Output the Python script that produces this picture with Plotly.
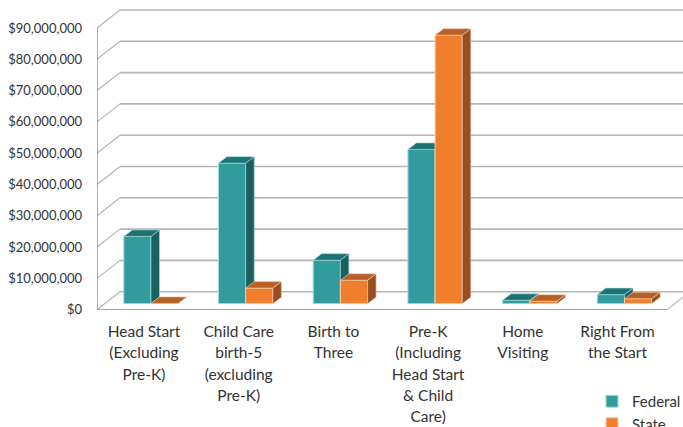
import plotly.graph_objects as go

categories = [
    ["Head Start", "(Excluding", "Pre-K)"],
    ["Child Care", "birth-5", "(excluding", "Pre-K)"],
    ["Birth to", "Three"],
    ["Pre-K", "(Including", "Head Start", "& Child", "Care)"],
    ["Home", "Visiting"],
    ["Right From", "the Start"],
]
federal = [21500000, 44900000, 13900000, 49300000, 1100000, 2900000]
state = [100000, 5000000, 7500000, 85800000, 800000, 1600000]
y_ticks = list(range(0, 100000000, 10000000))

W, H = 683, 427
CAT_PX = 94.7            # pixels per category
ZERO_X_PX = 151          # pixel of category 0 centre
AX_X_PX = 97             # front axis pixel
FLOOR_END_PX = 667
AX_Y_PX = 309.7          # pixel of front floor
Y_PX = 31.3 / 10000000   # pixels per dollar


def dx(px):
    return px / CAT_PX


def dy(px):
    return px / Y_PX


x_lo = (AX_X_PX - ZERO_X_PX) / CAT_PX
x_hi = (W - ZERO_X_PX) / CAT_PX
x_floor = (FLOOR_END_PX - ZERO_X_PX) / CAT_PX
y_hi = AX_Y_PX / Y_PX
bar_lift = dy(6)
bar_w = 27.2 / CAT_PX
bar_dx, bar_dy = dx(8.5), dy(6.5)
wall_dx, wall_dy = dx(23), dy(18)

GRID = "#b4b4b4"
AXIS = "#8c8c8c"
TEXT = "#333333"

fig = go.Figure()


def add_series(name, values, offset, axis, front, edge, side, top):
    xs = list(range(len(values)))
    fig.add_trace(go.Bar(
        x=xs, y=values, name=name, width=bar_w, offset=offset, yaxis=axis,
        marker=dict(color=front, line=dict(color=edge, width=1)),
    ))
    for i, v in zip(xs, values):
        x0 = i + offset
        x1 = x0 + bar_w
        fig.add_trace(go.Scatter(
            x=[x1, x1 + bar_dx, x1 + bar_dx, x1, x1],
            y=[0, bar_dy, v + bar_dy, v, 0],
            mode="lines", fill="toself", fillcolor=side,
            line=dict(color=edge, width=0.6), yaxis=axis,
            showlegend=False, hoverinfo="skip",
        ))
        fig.add_trace(go.Scatter(
            x=[x0, x1, x1 + bar_dx, x0 + bar_dx, x0],
            y=[v, v, v + bar_dy, v + bar_dy, v],
            mode="lines", fill="toself", fillcolor=top,
            line=dict(color=edge, width=0.6), yaxis=axis,
            showlegend=False, hoverinfo="skip",
        ))


add_series("Federal", federal, -bar_w, "y2", "#329b9e", "#a5dcdc", "#17625f", "#1d7373")
add_series("State", state, 0, "y3", "#f07e2d", "#f9cba8", "#964f20", "#b66027")

shapes = []
for t in y_ticks:
    shapes.append(dict(type="line", xref="x", yref="y", layer="below",
                       x0=x_lo, y0=t, x1=x_lo + wall_dx, y1=t + wall_dy,
                       line=dict(color=GRID, width=1.2)))
    shapes.append(dict(type="line", xref="x", yref="y", layer="below",
                       x0=x_lo + wall_dx, y0=t + wall_dy, x1=x_hi, y1=t + wall_dy,
                       line=dict(color=GRID, width=1.6)))
shapes.append(dict(type="line", xref="x", yref="y", layer="below",
                   x0=x_lo, y0=0, x1=x_lo, y1=y_ticks[-1],
                   line=dict(color=AXIS, width=1.4)))
shapes.append(dict(type="line", xref="x", yref="y", layer="below",
                   x0=x_lo, y0=0, x1=x_floor, y1=0,
                   line=dict(color=AXIS, width=1.4)))
shapes.append(dict(type="line", xref="x", yref="y", layer="below",
                   x0=x_floor, y0=0, x1=x_floor + wall_dx, y1=wall_dy,
                   line=dict(color=GRID, width=1.2)))


def tick_text(lines):
    return "<br>".join(f'<span style="font-size:15.5px">{s}</span>' for s in lines)


fig.update_layout(
    width=W, height=H,
    margin=dict(l=0, r=0, t=0, b=0, autoexpand=False),
    paper_bgcolor="white", plot_bgcolor="white",
    font=dict(family="Lato", color=TEXT),
    shapes=shapes,
    barmode="overlay",
    xaxis=dict(
        domain=[AX_X_PX / W, 1], range=[x_lo, x_hi],
        tickmode="array", tickvals=[i - dx(7) for i in range(len(categories))],
        ticktext=[tick_text(c) for c in categories],
        tickfont=dict(size=16.4, family="Lato", color=TEXT),
        tickangle=0, showgrid=False, zeroline=False, showline=False,
        ticks="", ticklabelstandoff=10,
    ),
    yaxis=dict(
        domain=[(H - AX_Y_PX) / H, 1], range=[0, y_hi],
        tickmode="array", tickvals=y_ticks,
        tickformat="$,.0f", tickfont=dict(size=13, family="Lato", color=TEXT),
        showgrid=False, zeroline=False, showline=False, ticks="",
        ticklabelstandoff=14,
    ),
    yaxis2=dict(overlaying="y", range=[-bar_lift, y_hi - bar_lift], visible=False),
    yaxis3=dict(overlaying="y", range=[-bar_lift, y_hi - bar_lift], visible=False),
    legend=dict(
        x=592 / W, y=(H - 385) / H, xanchor="left", yanchor="top",
        bgcolor="rgba(0,0,0,0)", font=dict(size=15, family="Lato", color=TEXT),
        itemwidth=30, traceorder="normal",
    ),
)

fig.write_html("out.html", post_script="document.body.style.margin='0';",
               config={"displayModeBar": False})
